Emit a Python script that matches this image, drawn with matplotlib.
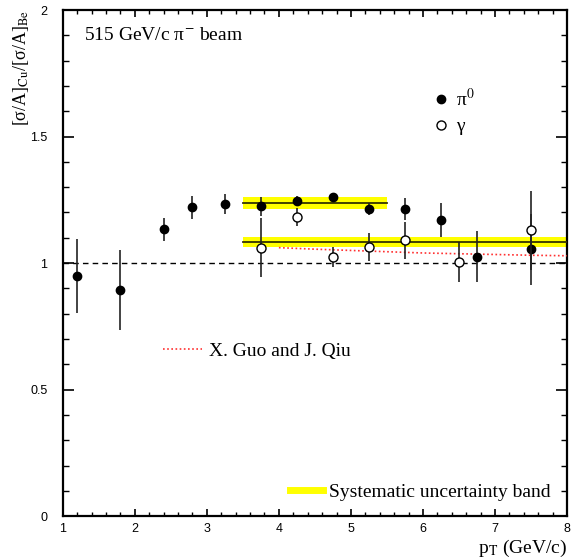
import numpy as np
import matplotlib
matplotlib.use("Agg")
import matplotlib.pyplot as plt
from matplotlib.lines import Line2D
from matplotlib.ticker import MultipleLocator

plt.rcParams['font.family'] = 'Liberation Serif'
plt.rcParams['mathtext.fontset'] = 'stix'

# pi0 ratio Cu/Be
pi0_pt = [1.2, 1.8, 2.4, 2.8, 3.25, 3.75, 4.25, 4.75, 5.25, 5.75, 6.25, 6.75, 7.5]
pi0_ratio = [0.949, 0.893, 1.133, 1.221, 1.233, 1.224, 1.246, 1.261, 1.215, 1.213, 1.170, 1.026, 1.054]
pi0_err = [0.145, 0.158, 0.045, 0.046, 0.040, 0.038, 0.018, 0.010, 0.023, 0.043, 0.066, 0.100, 0.140]

# direct photon ratio Cu/Be
gam_pt = [3.75, 4.25, 4.75, 5.25, 5.75, 6.5, 7.5]
gam_ratio = [1.061, 1.181, 1.024, 1.063, 1.090, 1.005, 1.129]
gam_err = [0.117, 0.035, 0.040, 0.054, 0.074, 0.080, 0.155]

# mean values with systematic bands
band_pi0_x = [3.5, 5.5]
band_pi0_y = 1.238
band_pi0_half = 0.025
band_gam_x = [3.5, 8.0]
band_gam_y = 1.083
band_gam_half = 0.021

# theory curve (X. Guo and J. Qiu)
theo_pt = [4.0, 4.5, 5.0, 5.5, 6.0, 6.5, 7.0, 7.5, 8.0]
theo_ratio = [1.061, 1.055, 1.050, 1.045, 1.040, 1.037, 1.034, 1.031, 1.029]

fig = plt.figure(figsize=(5.71, 5.58), dpi=100)
ax = fig.add_axes([0.110, 0.075, 0.883, 0.907])

ax.axhline(1.0, color='black', linestyle=(0, (4, 3)), linewidth=1.0, zorder=1)

for bx, by, bh in [(band_pi0_x, band_pi0_y, band_pi0_half), (band_gam_x, band_gam_y, band_gam_half)]:
    ax.fill_between(bx, by - bh, by + bh, color='#ffff00', linewidth=0, zorder=2)
    ax.plot(bx, [by, by], color='#333300', linewidth=1.3, zorder=3)

theo_line, = ax.plot(theo_pt, theo_ratio, color='#ff3030', linestyle=(0, (1, 1.5)),
                     linewidth=1.2, zorder=3)

ax.errorbar(pi0_pt, pi0_ratio, yerr=pi0_err, fmt='o', color='black', ecolor='#222222',
            markersize=6, elinewidth=1.2, capsize=0, zorder=5)
ax.errorbar(gam_pt, gam_ratio, yerr=gam_err, fmt='o', color='black', ecolor='#222222',
            markerfacecolor='white', markeredgewidth=1.0, markersize=6.5,
            elinewidth=1.2, capsize=0, zorder=6)

ax.set_xlim(1, 8)
ax.set_ylim(0, 2)
ax.xaxis.set_major_locator(MultipleLocator(1))
ax.xaxis.set_minor_locator(MultipleLocator(0.2))
ax.yaxis.set_minor_locator(MultipleLocator(0.1))
ax.set_yticks([0, 0.5, 1, 1.5, 2])
ax.set_yticklabels(['0', '0.5', '1', '1.5', '2'])
ax.tick_params(axis='both', which='both', direction='in', top=True, right=True)
ax.tick_params(axis='y', which='major', length=8, width=1.2, pad=11)
ax.tick_params(axis='y', which='minor', length=4, width=1.0)
ax.tick_params(axis='x', which='major', length=5, width=1.2, pad=5)
ax.tick_params(axis='x', which='minor', length=3, width=1.0)
for lab in ax.get_xticklabels() + ax.get_yticklabels():
    lab.set_family('Liberation Sans')
    lab.set_fontsize(9)
for sp in ax.spines.values():
    sp.set_linewidth(1.6)

ax.set_xlabel(r'p$_{\rm T}$ (GeV/c)', fontsize=14, loc='right', labelpad=2)
ax.set_ylabel(r'[σ/A]$_{\rm Cu}$/[σ/A]$_{\rm Be}$', fontsize=13, loc='top')
ax.yaxis.set_label_coords(-0.064, 1.0)

ax.text(0.042, 0.95, r'515 GeV/c π$^{-}$ beam', transform=ax.transAxes,
        fontsize=14, ha='left', va='center')

h_pi0 = Line2D([], [], marker='o', color='black', linestyle='none', markersize=6)
h_gam = Line2D([], [], marker='o', color='black', markerfacecolor='white',
               markeredgewidth=1.0, linestyle='none', markersize=6.5)
leg1 = ax.legend([h_pi0, h_gam], [r'π$^{0}$', 'γ'], loc='upper left',
                 bbox_to_anchor=(0.734, 0.846), frameon=False, fontsize=14,
                 handlelength=0.8, handletextpad=0.4, borderpad=0, borderaxespad=0,
                 labelspacing=0.4, numpoints=1)
ax.add_artist(leg1)

leg2 = ax.legend([theo_line], ['X. Guo and J. Qiu'], loc='center left',
                 bbox_to_anchor=(0.198, 0.326), frameon=False, fontsize=14,
                 handlelength=2.0, handletextpad=0.36, borderpad=0, borderaxespad=0)
ax.add_artist(leg2)

h_band = Line2D([], [], color='#ffff00', linewidth=5)
ax.legend([h_band], ['Systematic uncertainty band'], loc='center left',
          bbox_to_anchor=(0.450, 0.047), frameon=False, fontsize=14,
          handlelength=1.7, handletextpad=0.3, borderpad=0, borderaxespad=0)

fig.savefig('out.png', dpi=100)
